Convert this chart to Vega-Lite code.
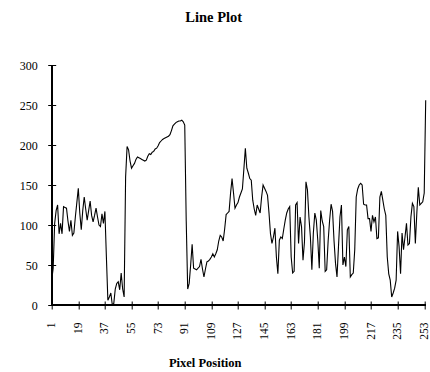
{
  "$schema": "https://vega.github.io/schema/vega-lite/v6.json",
  "autosize": "none",
  "width": 374,
  "height": 240,
  "padding": {"left": 51.7, "top": 65, "right": 4.3, "bottom": 67},
  "background": "white",
  "config": {
    "view": {"stroke": null},
    "font": "Liberation Serif",
    "axis": {"labelOverlap": false, "labelBound": false, "labelFlush": false, "grid": false, "domain": false,
      "offset": -4, "tickSize": 8, "tickColor": "black", "tickWidth": 1, "labelColor": "black",
      "labelFont": "Liberation Serif", "titleFont": "Liberation Serif", "titleColor": "black"},
    "axisX": {"labelAngle": -90, "labelAlign": "right", "labelBaseline": "middle", "labelPadding": 13, "labelFontSize": 11.5,
      "titleFontSize": 12.5, "titleFontWeight": "bold", "titleX": 153, "titleY": 65, "titleBaseline": "alphabetic", "titleAlign": "center"},
    "axisY": {"labelPadding": 10.5, "labelFontSize": 12}
  },
  "title": {"text": "Line Plot", "font": "Liberation Serif", "fontSize": 14.5, "fontWeight": "bold", "color": "black", "dx": -25, "offset": 34},
  "data": {"values": [
{"x":1,"v":31},{"x":2,"v":46},{"x":3,"v":102},{"x":4,"v":118},{"x":5,"v":125},{"x":6,"v":89},{"x":7,"v":102},{"x":8,"v":89},{"x":9,"v":123},{"x":10,"v":122},
{"x":11,"v":121},{"x":12,"v":105},{"x":13,"v":92},{"x":14,"v":106},{"x":15,"v":87},{"x":16,"v":90},{"x":17,"v":110},{"x":18,"v":128},{"x":19,"v":146},{"x":20,"v":115},
{"x":21,"v":94},{"x":22,"v":118},{"x":23,"v":135},{"x":24,"v":120},{"x":25,"v":106},{"x":26,"v":118},{"x":27,"v":130},{"x":28,"v":112},{"x":29,"v":104},{"x":30,"v":112},
{"x":31,"v":121},{"x":32,"v":110},{"x":33,"v":100},{"x":34,"v":98},{"x":35,"v":114},{"x":36,"v":102},{"x":37,"v":117},{"x":38,"v":60},{"x":39,"v":6},{"x":40,"v":10},
{"x":41,"v":15},{"x":42,"v":0},{"x":43,"v":2},{"x":44,"v":20},{"x":45,"v":27},{"x":46,"v":29},{"x":47,"v":19},{"x":48,"v":40},{"x":49,"v":20},{"x":50,"v":10},
{"x":51,"v":160},{"x":52,"v":198},{"x":53,"v":194},{"x":54,"v":180},{"x":55,"v":171},{"x":56,"v":174},{"x":57,"v":177},{"x":58,"v":182},{"x":59,"v":185},{"x":60,"v":184},
{"x":61,"v":183},{"x":62,"v":182},{"x":63,"v":181},{"x":64,"v":180},{"x":65,"v":181},{"x":66,"v":186},{"x":67,"v":189},{"x":68,"v":188},{"x":69,"v":191},{"x":70,"v":192},
{"x":71,"v":195},{"x":72,"v":196},{"x":73,"v":199},{"x":74,"v":203},{"x":75,"v":205},{"x":76,"v":207},{"x":77,"v":208},{"x":78,"v":209},{"x":79,"v":210},{"x":80,"v":211},
{"x":81,"v":213},{"x":82,"v":218},{"x":83,"v":224},{"x":84,"v":226},{"x":85,"v":228},{"x":86,"v":229},{"x":87,"v":230},{"x":88,"v":230},{"x":89,"v":231},{"x":90,"v":229},
{"x":91,"v":225},{"x":92,"v":105},{"x":93,"v":20},{"x":94,"v":27},{"x":95,"v":50},{"x":96,"v":76},{"x":97,"v":46},{"x":98,"v":45},{"x":99,"v":44},{"x":100,"v":46},
{"x":101,"v":48},{"x":102,"v":57},{"x":103,"v":45},{"x":104,"v":35},{"x":105,"v":45},{"x":106,"v":54},{"x":107,"v":55},{"x":108,"v":57},{"x":109,"v":60},{"x":110,"v":64},
{"x":111,"v":60},{"x":112,"v":64},{"x":113,"v":69},{"x":114,"v":80},{"x":115,"v":87},{"x":116,"v":85},{"x":117,"v":80},{"x":118,"v":95},{"x":119,"v":113},{"x":120,"v":115},
{"x":121,"v":117},{"x":122,"v":140},{"x":123,"v":158},{"x":124,"v":140},{"x":125,"v":121},{"x":126,"v":125},{"x":127,"v":128},{"x":128,"v":135},{"x":129,"v":140},{"x":130,"v":145},
{"x":131,"v":170},{"x":132,"v":196},{"x":133,"v":171},{"x":134,"v":165},{"x":135,"v":158},{"x":136,"v":156},{"x":137,"v":131},{"x":138,"v":120},{"x":139,"v":112},{"x":140,"v":125},
{"x":141,"v":120},{"x":142,"v":115},{"x":143,"v":135},{"x":144,"v":150},{"x":145,"v":146},{"x":146,"v":142},{"x":147,"v":137},{"x":148,"v":115},{"x":149,"v":89},{"x":150,"v":77},
{"x":151,"v":85},{"x":152,"v":96},{"x":153,"v":60},{"x":154,"v":39},{"x":155,"v":81},{"x":156,"v":85},{"x":157,"v":83},{"x":158,"v":95},{"x":159,"v":106},{"x":160,"v":115},
{"x":161,"v":120},{"x":162,"v":123},{"x":163,"v":60},{"x":164,"v":40},{"x":165,"v":42},{"x":166,"v":125},{"x":167,"v":128},{"x":168,"v":77},{"x":169,"v":110},{"x":170,"v":98},
{"x":171,"v":56},{"x":172,"v":79},{"x":173,"v":154},{"x":174,"v":144},{"x":175,"v":110},{"x":176,"v":85},{"x":177,"v":44},{"x":178,"v":90},{"x":179,"v":115},{"x":180,"v":106},
{"x":181,"v":81},{"x":182,"v":46},{"x":183,"v":118},{"x":184,"v":105},{"x":185,"v":98},{"x":186,"v":42},{"x":187,"v":44},{"x":188,"v":80},{"x":189,"v":106},{"x":190,"v":126},
{"x":191,"v":117},{"x":192,"v":80},{"x":193,"v":52},{"x":194,"v":35},{"x":195,"v":73},{"x":196,"v":110},{"x":197,"v":125},{"x":198,"v":50},{"x":199,"v":60},{"x":200,"v":48},
{"x":201,"v":94},{"x":202,"v":98},{"x":203,"v":35},{"x":204,"v":38},{"x":205,"v":40},{"x":206,"v":69},{"x":207,"v":135},{"x":208,"v":145},{"x":209,"v":150},{"x":210,"v":152},
{"x":211,"v":150},{"x":212,"v":126},{"x":213,"v":125},{"x":214,"v":125},{"x":215,"v":108},{"x":216,"v":108},{"x":217,"v":92},{"x":218,"v":112},{"x":219,"v":104},{"x":220,"v":110},
{"x":221,"v":83},{"x":222,"v":84},{"x":223,"v":135},{"x":224,"v":142},{"x":225,"v":131},{"x":226,"v":120},{"x":227,"v":112},{"x":228,"v":60},{"x":229,"v":39},{"x":230,"v":31},
{"x":231,"v":10},{"x":232,"v":15},{"x":233,"v":21},{"x":234,"v":31},{"x":235,"v":92},{"x":236,"v":73},{"x":237,"v":39},{"x":238,"v":90},{"x":239,"v":69},{"x":240,"v":85},
{"x":241,"v":102},{"x":242,"v":75},{"x":243,"v":77},{"x":244,"v":110},{"x":245,"v":127},{"x":246,"v":123},{"x":247,"v":77},{"x":248,"v":115},{"x":249,"v":147},{"x":250,"v":125},
{"x":251,"v":127},{"x":252,"v":129},{"x":253,"v":140},{"x":254,"v":256}
  ]},
  "layer": [
    {
      "mark": {"type": "line", "color": "black", "strokeWidth": 1.1},
      "encoding": {
        "x": {"field": "x", "type": "quantitative",
          "scale": {"domain": [1, 254], "nice": false, "zero": false},
          "axis": {"values": [1,19,37,55,73,91,109,127,145,163,181,199,217,235,253], "title": "Pixel Position", "labelOverlap": false}},
        "y": {"field": "v", "type": "quantitative",
          "scale": {"domain": [0, 300], "nice": false},
          "axis": {"values": [0,50,100,150,200,250,300], "title": null, "labelOverlap": false}}
      }
    },
    {
      "mark": {"type": "rule", "color": "black", "strokeWidth": 1},
      "encoding": {"y": {"datum": 0, "type": "quantitative",
        "axis": {"values": [0,50,100,150,200,250,300], "title": null, "labelOverlap": false}}}
    },
    {
      "mark": {"type": "rule", "color": "black", "strokeWidth": 1},
      "encoding": {"x": {"datum": 1, "type": "quantitative",
        "axis": {"values": [1,19,37,55,73,91,109,127,145,163,181,199,217,235,253], "title": "Pixel Position", "labelOverlap": false}}}
    }
  ]
}
